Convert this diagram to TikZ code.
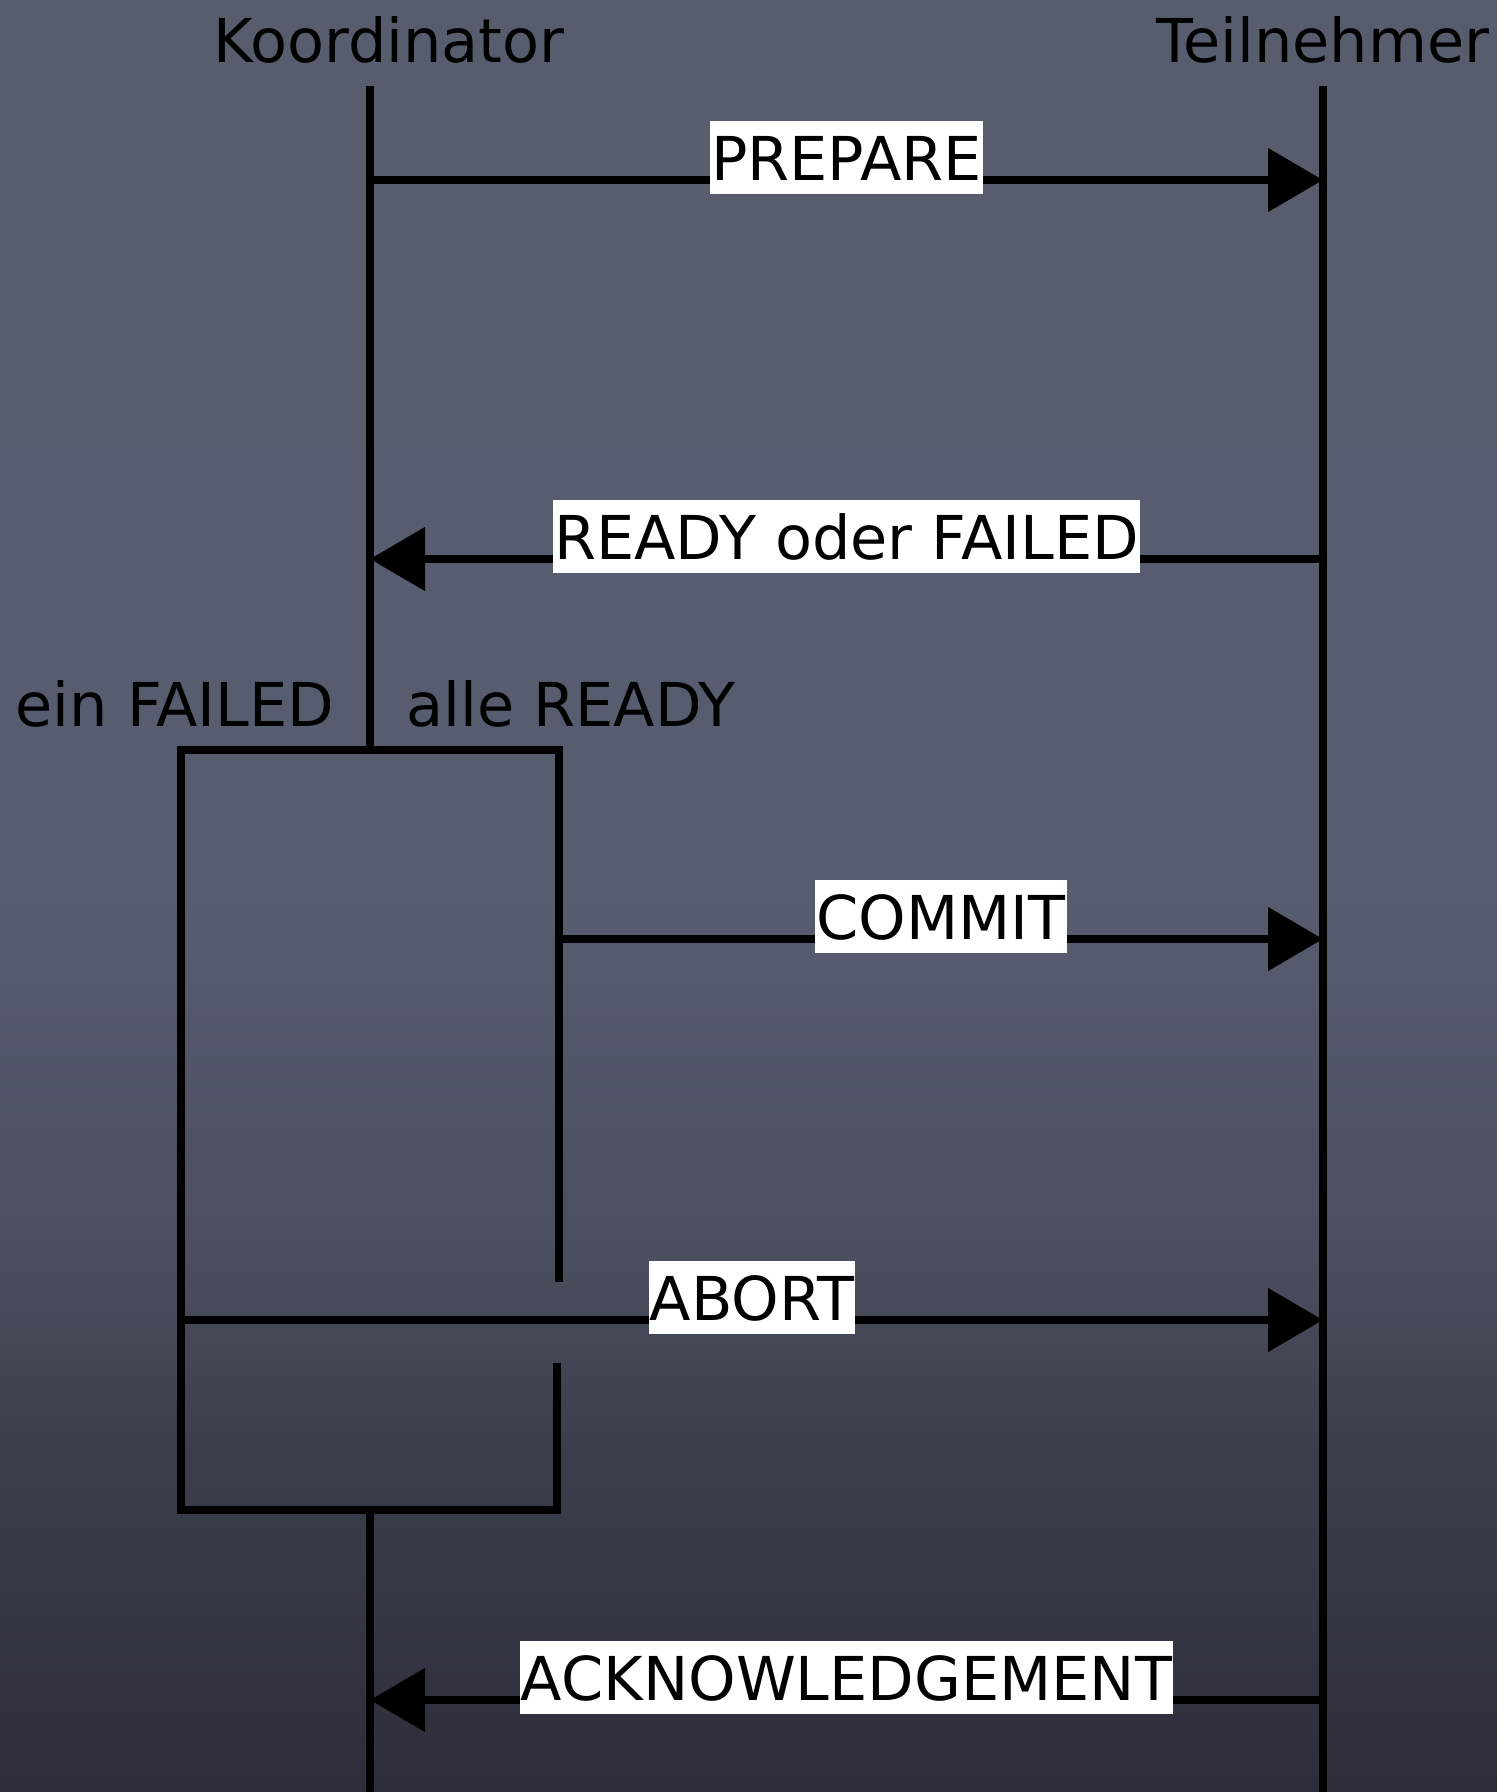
\documentclass[tikz,border=0pt]{standalone}
\usepackage{fontspec}
\setmainfont{DejaVu Sans}
\usetikzlibrary{arrows.meta}
\definecolor{bgtop}{HTML}{585D6E}
\definecolor{bgmidA}{HTML}{575C6F}
\definecolor{bgmidB}{HTML}{4A4E5E}
\definecolor{bgmidC}{HTML}{3B3E4C}
\definecolor{bgbot}{HTML}{2C2F3A}
\pgfdeclareverticalshading{chalkbg}{100bp}{color(0bp)=(bgbot); color(25bp)=(bgbot); color(34.5bp)=(bgmidC); color(40bp)=(bgmidB); color(50bp)=(bgmidA); color(75bp)=(bgtop); color(100bp)=(bgtop)}
\begin{document}
\begin{tikzpicture}[x=1pt,y=-1pt,
  every node/.style={font=\fontsize{60.5}{72}\selectfont, text=black},
  life/.style={line width=7.5pt, black},
  msg/.style={line width=8pt, black, -{Triangle[length=55pt,width=62pt]}},
  frame/.style={line width=8pt, black},
  lbl/.style={fill=white, inner xsep=1pt, inner ysep=1pt, text height=58pt, text depth=13pt, anchor=base}]
\useasboundingbox (0,0) rectangle (1497,1792);
\shade[shading=chalkbg] (0,0) rectangle (1497,1792);

% headers
\node[anchor=base] (kh) at (389,62) {Koordinator};
\node[anchor=base] (th) at (1323,62) {Teilnehmer};

% lifeline coordinates
\coordinate (k0) at (370,86);
\coordinate (ktop) at (370,750);
\coordinate (kbot) at (370,1510);
\coordinate (kend) at (370,1792);
\coordinate (t0) at (1323,86);
\coordinate (tend) at (1323,1792);

\draw[life] (k0) -- (ktop);
\draw[life] (kbot) -- (kend);
\draw[life] (t0) -- (tend);

% message endpoints
\coordinate (kP) at (370,180);
\coordinate (tP) at (1323,180);
\coordinate (tR) at (1323,559);
\coordinate (kR) at (370,559);
\coordinate (bC) at (559,939);
\coordinate (tC) at (1323,939);
\coordinate (bA) at (181,1320);
\coordinate (tA) at (1323,1320);
\coordinate (tK) at (1323,1700);
\coordinate (kK) at (370,1700);

% alternative frame
\coordinate (fr1) at (559,1282);
\coordinate (fr2) at (559,750);
\coordinate (fr3) at (181,750);
\coordinate (fr4) at (181,1510);
\coordinate (fr5) at (557,1510);
\coordinate (fr6) at (557,1363);
\draw[frame] (fr1) -- (fr2) -- (fr3) -- (fr4) -- (fr5) -- (fr6);

\node[anchor=base] (ef) at (175,726) {ein FAILED};
\node[anchor=base] (ar) at (571,726) {alle READY};

% messages
\draw[msg] (kP) -- node[lbl] (lp) {PREPARE} (tP);
\draw[msg] (tR) -- node[lbl] (lr) {READY oder FAILED} (kR);
\draw[msg] (bC) -- node[lbl] (lc) {COMMIT} (tC);
\draw[msg] (bA) -- node[lbl] (la) {ABORT} (tA);
\draw[msg] (tK) -- node[lbl] (lk) {ACKNOWLEDGEMENT} (kK);
\end{tikzpicture}
\end{document}
